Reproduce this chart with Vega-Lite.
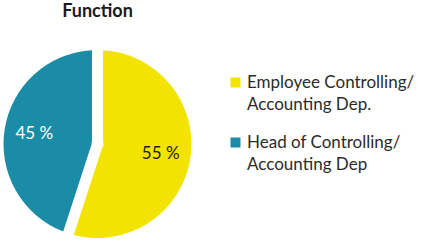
{
  "$schema": "https://vega.github.io/schema/vega-lite/v6.json",
  "width": 195,
  "height": 188,
  "autosize": {"type": "none"},
  "padding": {"left": 0, "top": 50, "right": 230, "bottom": 5},
  "background": "#ffffff",
  "title": {
    "text": "Function",
    "font": "Lato",
    "fontSize": 18,
    "fontWeight": "bold",
    "color": "#1a1a1a",
    "anchor": "middle",
    "baseline": "alphabetic",
    "offset": 15
  },
  "config": {
    "view": {"stroke": null},
    "style": {"guide-label": {"lineHeight": 22}}
  },
  "data": {
    "values": [
      {"function": "Employee Controlling/ Accounting Dep.", "share": 55, "label": "55 %", "order": 1},
      {"function": "Head of Controlling/ Accounting Dep", "share": 45, "label": "45 %", "order": 2}
    ]
  },
  "encoding": {
    "theta": {"field": "share", "type": "quantitative", "stack": true},
    "order": {"field": "order", "type": "quantitative"}
  },
  "layer": [
    {
      "mark": {"type": "arc", "outerRadius": 94, "innerRadius": 6, "padAngle": 0.118},
      "encoding": {
        "color": {
          "field": "function",
          "type": "nominal",
          "sort": null,
          "scale": {
            "domain": ["Employee Controlling/ Accounting Dep.", "Head of Controlling/ Accounting Dep"],
            "range": ["#F3E300", "#1A8CA5"]
          },
          "legend": {
            "title": null,
            "orient": "none",
            "legendX": 227,
            "legendY": 24,
            "padding": 0,
            "symbolType": "square",
            "symbolSize": 100,
            "symbolStrokeWidth": 0,
            "labelOffset": 3,
            "labelFont": "Lato",
            "labelFontSize": 17,
            "labelColor": "#2b2b2b",
            "labelLimit": 0,
            "rowPadding": 20,
            "labelExpr": "[split(datum.label, '/ ')[0] + '/', split(datum.label, '/ ')[1]]"
          }
        }
      }
    },
    {
      "mark": {"type": "text", "radius": 64, "font": "Lato", "fontSize": 17},
      "encoding": {
        "text": {"field": "label", "type": "nominal"},
        "fill": {
          "field": "function",
          "type": "nominal",
          "scale": {
            "domain": ["Employee Controlling/ Accounting Dep.", "Head of Controlling/ Accounting Dep"],
            "range": ["#1e1e1e", "#ffffff"]
          },
          "legend": null
        }
      }
    }
  ]
}
